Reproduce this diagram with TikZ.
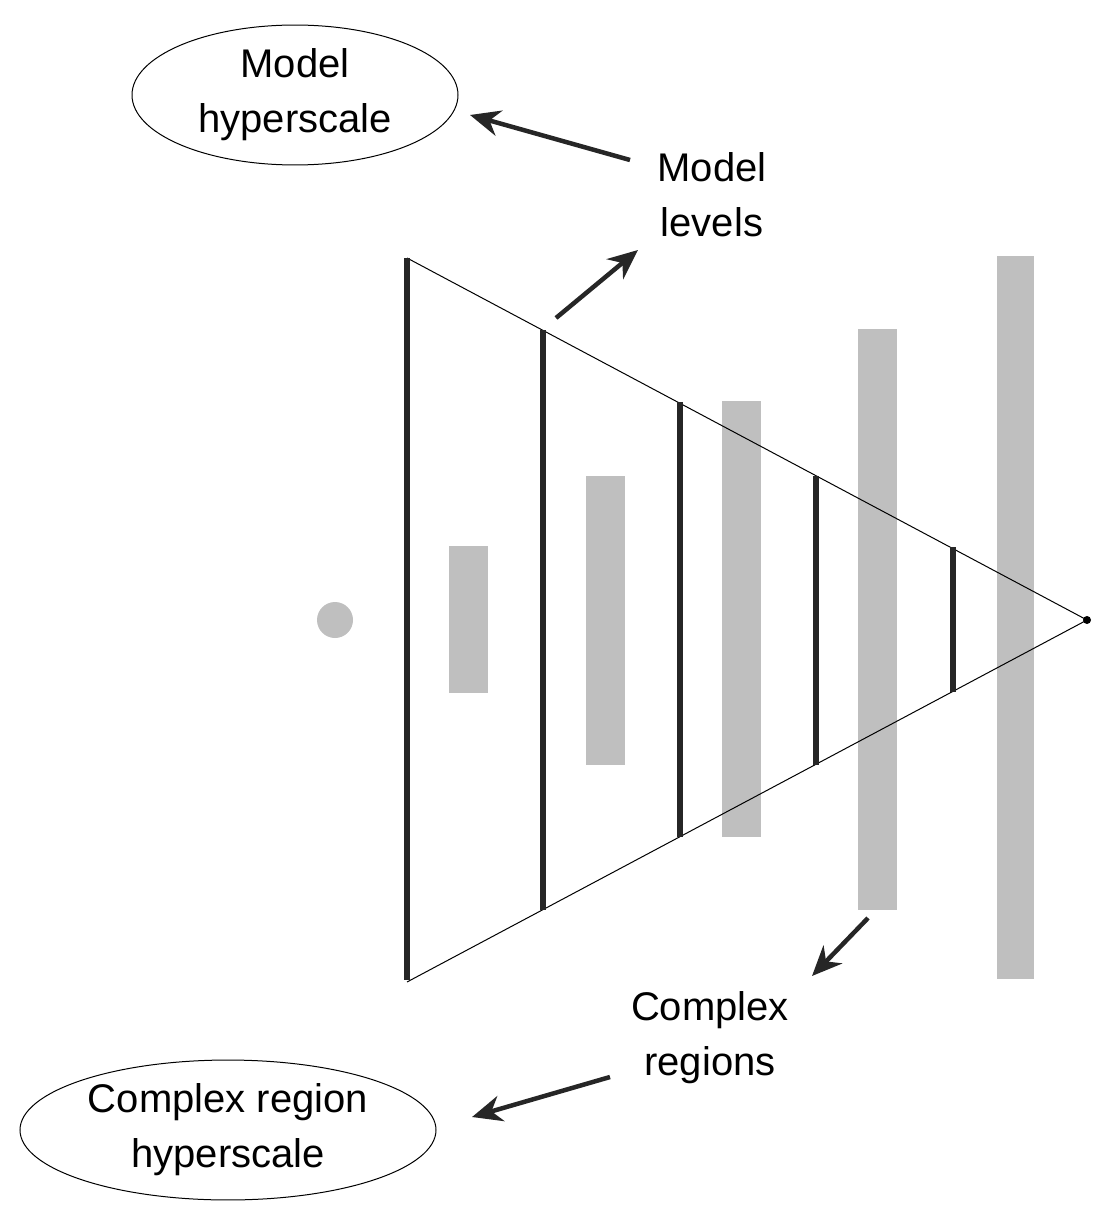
\documentclass[tikz,border=0pt]{standalone}
\usepackage{fontspec}
\setmainfont{Liberation Sans}
\usetikzlibrary{arrows.meta,shapes.geometric}
\tikzset{level/.style={line width=6pt,black!85},
 region/.style={fill=black!25,draw=none},
 txt/.style={align=center,font=\fontsize{40}{55}\selectfont},
 arr/.style={line width=4.5pt,-{Stealth[length=30pt,width=26pt]},black!85}}
\begin{document}
\begin{tikzpicture}[x=1pt,y=-1pt]
 \useasboundingbox (0,0) rectangle (1110,1230);
 % grey regions
 \fill[region] (449,546) rectangle (488,693);
 \fill[region] (586,476) rectangle (625,765);
 \fill[region] (722,401) rectangle (761,837);
 \fill[region] (858,329) rectangle (897,910);
 \fill[region] (997,256) rectangle (1034,979);
 \fill[black!25] (335,620) circle (18);
 % model levels
 \coordinate (top) at (407,258);
 \coordinate (bot) at (407,982);
 \coordinate (apex) at (1087,620);
 \draw[line width=1pt] (top) -- (apex) -- (bot);
 \fill (apex) circle (4);
 \foreach \x/\a/\b in {407/258/980,543/330/910,680/402/837,816/476/765,953/547/692}{
  \draw[level] (\x,\a) -- (\x,\b);
 }
 % labels
 \node[draw,ellipse,minimum width=326,minimum height=120,line width=1pt,txt] (mh) at (295,95) {Model\\hyperscale};
 \node[draw,ellipse,minimum width=416,minimum height=124,line width=1pt,txt] (ch) at (228,1130) {Complex region\\hyperscale};
 \node[txt] (ml) at (712,195) {Model\\levels};
 \node[txt] (cr) at (710,1038) {Complex\\regions};
 \coordinate (l1) at (556,318);
 \coordinate (l2) at (638,250);
 \coordinate (r1) at (868,918);
 \coordinate (r2) at (812,976);
 \coordinate (m1) at (630,160);
 \coordinate (m2) at (470,115);
 \coordinate (c1) at (610,1077);
 \coordinate (c2) at (472,1117);
 \draw[arr] (m1) -- (m2);
 \draw[arr] (l1) -- (l2);
 \draw[arr] (r1) -- (r2);
 \draw[arr] (c1) -- (c2);
\end{tikzpicture}
\end{document}
